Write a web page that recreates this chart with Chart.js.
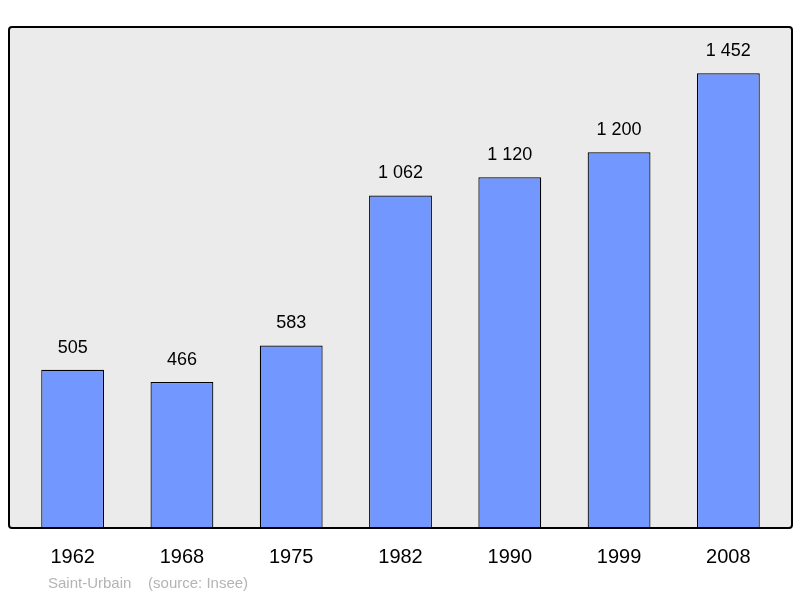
<!DOCTYPE html>
<html><head><meta charset="utf-8">
<script src="https://cdn.jsdelivr.net/npm/chart.js@4/dist/chart.umd.min.js"></script>
<style>html,body{margin:0;padding:0;background:#fff}#w{width:800px;height:598px}</style>
</head><body><div id="w"><canvas id="c"></canvas></div>
<script>
const years = ["1962","1968","1975","1982","1990","1999","2008"];
const population = [505,466,583,1062,1120,1200,1452];
const sourceText = "Saint-Urbain    (source: Insee)";
const fmt = v => String(v).replace(/\B(?=(\d{3})+(?!\d))/g, "\u00a0");
const deco = {
  id:'deco',
  beforeDraw(ch){
    const c=ch.ctx, a=ch.chartArea;
    const L=a.left-9, R=a.right+9, T=a.top, B=a.bottom;
    c.save(); c.fillStyle='#ebebeb'; c.fillRect(L,T,R-L,B-T); c.restore();
  },
  afterDatasetsDraw(ch){
    const c=ch.ctx, a=ch.chartArea;
    const L=a.left-9, R=a.right+9, T=a.top, B=a.bottom;
    c.save();
    c.strokeStyle='#000'; c.lineWidth=2;
    c.beginPath(); c.roundRect(L,T,R-L,B-T,3); c.stroke();
    const meta=ch.getDatasetMeta(0);
    c.fillStyle='#000'; c.textAlign='center';
    c.font='18px "Liberation Sans", Arial, sans-serif'; c.textBaseline='middle';
    meta.data.forEach((b,i)=>{ c.fillText(fmt(population[i]), b.x, b.y-22); });
    c.font='20px "Liberation Sans", Arial, sans-serif';
    meta.data.forEach((b,i)=>{ c.fillText(years[i], b.x, B+29); });
    c.fillStyle='#b4b4b4'; c.textAlign='left';
    c.font='15px "Liberation Sans", Arial, sans-serif';
    c.fillText(sourceText, 48, B+56);
    c.restore();
  }
};
new Chart(document.getElementById('c'),{
  type:'bar',
  data:{labels:years,datasets:[{data:population,backgroundColor:'#7297ff',borderColor:'#000',borderWidth:1.2,categoryPercentage:1,barPercentage:0.575}]},
  options:{
    responsive:true,maintainAspectRatio:false,animation:false,
    layout:{padding:{left:18,right:17,top:27,bottom:70}},
    plugins:{legend:{display:false},tooltip:{enabled:false}},
    scales:{x:{display:false},y:{display:false,min:0,max:1600}}
  },
  plugins:[deco]
});
</script></body></html>
